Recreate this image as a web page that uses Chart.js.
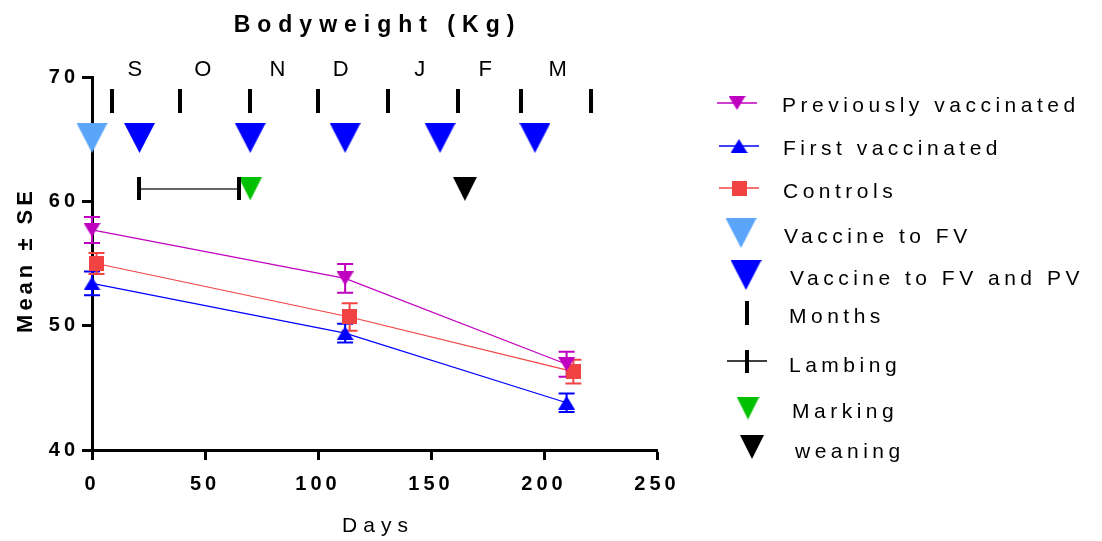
<!DOCTYPE html>
<html>
<head>
<meta charset="utf-8">
<script src="https://cdn.jsdelivr.net/npm/chart.js@4"></script>
<style>
  body { margin: 0; background: #fff; }
  #wrap { width: 1102px; height: 541px; }
</style>
</head>
<body>
<div id="wrap"><canvas id="bodyweight" width="1102" height="541"></canvas></div>
<script>
// data
const days = [0, 112, 210];
const controlDays = [2, 114, 213];
const prevMean = [57.7, 53.8, 46.9];
const prevSE = [1.05, 1.15, 1.0];
const firstMean = [53.4, 49.4, 43.8];
const firstSE = [0.95, 0.75, 0.75];
const ctrlMean = [55.0, 50.7, 46.3];
const ctrlSE = [0.85, 1.1, 0.95];

const fvDays = [0];
const fvPvDays = [21, 70, 112, 154, 196];
const vaccineY = 65.1;
const monthTickDays = [9, 39, 70, 100, 131, 162, 190, 221];
const monthTickY = 68.1;
const monthLetters = ["S", "O", "N", "D", "J", "F", "M"];
const monthLetterDays = [19, 49, 82, 110, 145, 174, 206];
const monthLetterY = 70.1;
const lambingDays = [21, 65];
const markingDays = [70];
const weaningDays = [165];
const eventY = 61.0;

const xTicks = [0, 50, 100, 150, 200, 250];
const yTicks = [40, 50, 60, 70];

const FONT = "'Liberation Sans', Arial, sans-serif";
const purple = "#C000C0";
const blue = "#0000FF";
const red = "#F24343";
const lightBlue = "#5AA5FA";
const green = "#00C000";

// marker images
function triangle(w, h, color, down) {
  const c = document.createElement("canvas");
  c.width = w;
  c.height = h;
  const g = c.getContext("2d");
  g.fillStyle = color;
  g.beginPath();
  if (down) {
    g.moveTo(0, 0); g.lineTo(w, 0); g.lineTo(w / 2, h);
  } else {
    g.moveTo(w / 2, 0); g.lineTo(w, h); g.lineTo(0, h);
  }
  g.closePath();
  g.fill();
  return c;
}
function box(w, h, color) {
  const c = document.createElement("canvas");
  c.width = w;
  c.height = h;
  const g = c.getContext("2d");
  g.fillStyle = color;
  g.fillRect(0, 0, w, h);
  return c;
}

const prevMark = triangle(17, 14, purple, true);
const firstMark = triangle(17, 14, blue, false);
const ctrlMark = box(15, 15, red);
const fvMark = triangle(31, 30, lightBlue, true);
const fvPvMark = triangle(31, 30, blue, true);
const monthMark = box(4, 24, "#000");
const lambMark = box(4, 23, "#000");
const markingMark = triangle(23, 23, green, true);
const weaningMark = triangle(24, 24, "#000", true);

const pts = (xs, ys) => xs.map((x, i) => ({ x: x, y: Array.isArray(ys) ? ys[i] : ys }));

function spacedText(ctx, text, x, y, font, spacing, align) {
  ctx.save();
  ctx.font = font;
  ctx.letterSpacing = spacing + "px";
  ctx.textAlign = align || "left";
  ctx.textBaseline = "alphabetic";
  ctx.fillStyle = "#000";
  const dx = align === "center" ? spacing / 2 : 0;
  ctx.fillText(text, x + dx, y);
  ctx.restore();
}

const errorBars = {
  id: "errorBars",
  beforeDatasetsDraw(chart) {
    const ctx = chart.ctx;
    const xs = chart.scales.x, ys = chart.scales.y;
    const groups = [
      [days, prevMean, prevSE, purple],
      [days, firstMean, firstSE, blue],
      [controlDays, ctrlMean, ctrlSE, red],
    ];
    ctx.save();
    ctx.lineWidth = 2;
    groups.forEach(([dx, m, se, col]) => {
      ctx.strokeStyle = col;
      dx.forEach((d, i) => {
        const px = xs.getPixelForValue(d);
        const top = ys.getPixelForValue(m[i] + se[i]);
        const bot = ys.getPixelForValue(m[i] - se[i]);
        ctx.beginPath();
        ctx.moveTo(px, top); ctx.lineTo(px, bot);
        ctx.moveTo(px - 8, top); ctx.lineTo(px + 8, top);
        ctx.moveTo(px - 8, bot); ctx.lineTo(px + 8, bot);
        ctx.stroke();
      });
    });
    ctx.restore();
  },
};

const decorations = {
  id: "decorations",
  beforeDraw(chart) {
    chart.ctx.letterSpacing = "4px";
  },
  afterDraw(chart) {
    const ctx = chart.ctx;
    const xs = chart.scales.x, ys = chart.scales.y;
    ctx.letterSpacing = "0px";

    spacedText(ctx, "Bodyweight (Kg)", 374, 32, "bold 23px " + FONT, 7, "center");
    spacedText(ctx, "Days", 375, 532, "21px " + FONT, 6, "center");

    // y axis title
    ctx.save();
    ctx.translate(32, 262);
    ctx.rotate(-Math.PI / 2);
    spacedText(ctx, "Mean \u00B1 SE", 0, 0, "bold 22px " + FONT, 4, "center");
    ctx.restore();

    // month letters above the plot
    monthLetters.forEach((m, i) => {
      spacedText(ctx, m, xs.getPixelForValue(monthLetterDays[i]),
        ys.getPixelForValue(monthLetterY), "22px " + FONT, 0, "center");
    });

    // legend
    const lf = "21px " + FONT;
    const items = [
      { text: "Previously vaccinated", tx: 782, base: 112, cx: 737, cy: 103, img: prevMark, line: purple },
      { text: "First vaccinated", tx: 783, base: 155, cx: 739, cy: 146, img: firstMark, line: blue },
      { text: "Controls", tx: 783, base: 198, cx: 739, cy: 188, img: ctrlMark, line: red },
      { text: "Vaccine to FV", tx: 784, base: 243, cx: 741, cy: 233, img: fvMark },
      { text: "Vaccine to FV and PV", tx: 790, base: 285, cx: 746, cy: 275, img: fvPvMark },
      { text: "Months", tx: 789, base: 323, cx: 747, cy: 313, img: monthMark },
      { text: "Lambing", tx: 789, base: 372, cx: 747, cy: 361, img: lambMark, line: "#000" },
      { text: "Marking", tx: 792, base: 418, cx: 748, cy: 408, img: markingMark },
      { text: "weaning", tx: 795, base: 458, cx: 752, cy: 447, img: weaningMark },
    ];
    items.forEach((it) => {
      if (it.line) {
        ctx.save();
        ctx.strokeStyle = it.line;
        ctx.lineWidth = 1.5;
        ctx.beginPath();
        ctx.moveTo(it.cx - 20, it.cy);
        ctx.lineTo(it.cx + 20, it.cy);
        ctx.stroke();
        ctx.restore();
      }
      ctx.drawImage(it.img, it.cx - it.img.width / 2, it.cy - it.img.height / 2);
      spacedText(ctx, it.text, it.tx, it.base, lf, 4.5, "left");
    });
  },
};

const tickFont = { family: FONT, size: 20, weight: "bold" };

new Chart(document.getElementById("bodyweight"), {
  type: "scatter",
  data: {
    datasets: [
      { label: "Previously vaccinated", data: pts(days, prevMean), showLine: true,
        borderColor: purple, borderWidth: 1.2, pointStyle: prevMark, pointRadius: 8 },
      { label: "First vaccinated", data: pts(days, firstMean), showLine: true,
        borderColor: blue, borderWidth: 1.2, pointStyle: firstMark, pointRadius: 8 },
      { label: "Controls", data: pts(controlDays, ctrlMean), showLine: true,
        borderColor: red, borderWidth: 1.2, pointStyle: ctrlMark, pointRadius: 8 },
      { label: "Vaccine to FV", data: pts(fvDays, vaccineY), pointStyle: fvMark, pointRadius: 15 },
      { label: "Vaccine to FV and PV", data: pts(fvPvDays, vaccineY), pointStyle: fvPvMark, pointRadius: 15 },
      { label: "Months", data: pts(monthTickDays, monthTickY), pointStyle: monthMark, pointRadius: 12 },
      { label: "Lambing", data: pts(lambingDays, eventY), showLine: true,
        borderColor: "#333", borderWidth: 1.5, pointStyle: lambMark, pointRadius: 12 },
      { label: "Marking", data: pts(markingDays, eventY), pointStyle: markingMark, pointRadius: 12 },
      { label: "weaning", data: pts(weaningDays, eventY), pointStyle: weaningMark, pointRadius: 12 },
    ].map((d) => Object.assign({ clip: false }, d)),
  },
  options: {
    responsive: false,
    animation: false,
    events: [],
    layout: { padding: { top: 77, right: 445, bottom: 0, left: 0 } },
    plugins: { legend: { display: false }, tooltip: { enabled: false } },
    scales: {
      x: {
        type: "linear",
        min: xTicks[0],
        max: xTicks[xTicks.length - 1],
        afterBuildTicks: (s) => { s.ticks = xTicks.map((v) => ({ value: v })); },
        afterFit: (s) => { s.height = 91; },
        grid: { drawOnChartArea: false, drawTicks: true, tickLength: 10, tickWidth: 3, tickColor: "#000" },
        border: { width: 3, color: "#000" },
        ticks: { font: tickFont, color: "#000", padding: 12, maxRotation: 0 },
      },
      y: {
        type: "linear",
        min: yTicks[0],
        max: yTicks[yTicks.length - 1],
        afterBuildTicks: (s) => { s.ticks = yTicks.map((v) => ({ value: v })); },
        afterFit: (s) => { s.width = 92; },
        grid: { drawOnChartArea: false, drawTicks: true, tickLength: 10, tickWidth: 3, tickColor: "#000" },
        border: { width: 3, color: "#000" },
        ticks: { font: tickFont, color: "#000", padding: 3 },
      },
    },
  },
  plugins: [errorBars, decorations],
});
</script>
</body>
</html>
